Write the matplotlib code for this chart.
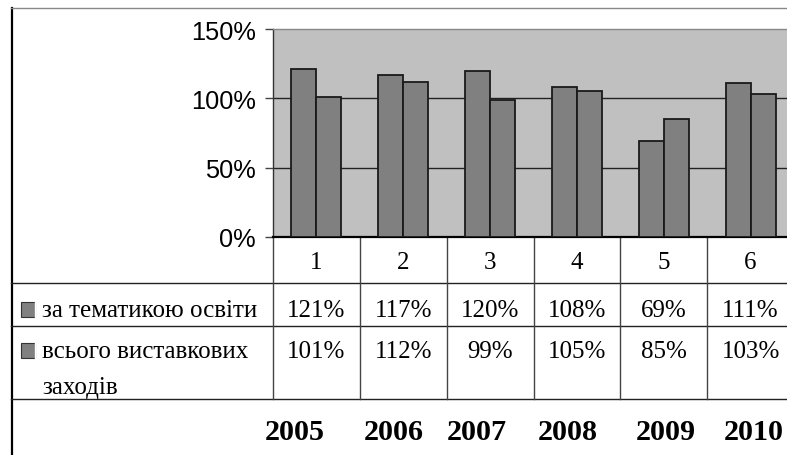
import matplotlib
matplotlib.use("Agg")
import matplotlib.pyplot as plt
from matplotlib.lines import Line2D
from matplotlib.patches import Rectangle
from matplotlib.transforms import blended_transform_factory

# ---- data ----
categories = ["1", "2", "3", "4", "5", "6"]
series_names = ["за тематикою освіти", "всього виставкових\nзаходів"]
edu_values = [121, 117, 120, 108, 69, 111]
total_values = [101, 112, 99, 105, 85, 103]
years = ["2005", "2006", "2007", "2008", "2009", "2010"]
y_ticks = [0, 50, 100, 150]
y_tick_labels = ["0%", "50%", "100%", "150%"]

W, H = 787, 456
fig = plt.figure(figsize=(W / 100, H / 100), dpi=100)
fig.patch.set_facecolor("white")

# overlay axes in pixel coordinates
ov = fig.add_axes([0, 0, 1, 1], zorder=0)
ov.set_xlim(0, W)
ov.set_ylim(H, 0)
ov.axis("off")

# main chart axes
left, right, top, bottom = 273, 794, 30, 238
ax = fig.add_axes([left / W, 1 - bottom / H, (right - left) / W, (bottom - top) / H], zorder=2)
ax.set_facecolor("#C0C0C0")
n = len(categories)
ax.set_xlim(0, n)
ax.set_ylim(0, 150)
bw = 0.288
xs = [i + 0.5 for i in range(n)]
ax.bar([x - bw / 2 for x in xs], edu_values, width=bw, color="#808080",
       edgecolor="#1a1a1a", linewidth=1.3, zorder=3)
ax.bar([x + bw / 2 for x in xs], total_values, width=bw, color="#808080",
       edgecolor="#1a1a1a", linewidth=1.3, zorder=3)
for g in [50, 100]:
    ax.axhline(g, color="#222222", linewidth=1.0, zorder=1)
ax.set_yticks(y_ticks)
ax.set_yticklabels(y_tick_labels, fontfamily="Liberation Sans", fontsize=18.3)
ax.tick_params(axis="y", direction="out", length=6, width=1, color="#444444", pad=6.5)
ax.set_xticks([])
for s in ["top", "right"]:
    ax.spines[s].set_color("#888888")
    ax.spines[s].set_linewidth(1)
ax.spines["left"].set_color("#333333")
ax.spines["left"].set_linewidth(1)
ax.spines["bottom"].set_color("black")
ax.spines["bottom"].set_linewidth(1.6)

# ---- frame ----
ov.add_line(Line2D([11.5, 11.5], [9, H], color="black", linewidth=1.6))
ov.add_line(Line2D([11, W], [9, 9], color="#888888", linewidth=1.0))

# ---- table ----
row_lines = [284, 327, 400]
for y in row_lines:
    ov.add_line(Line2D([11, W], [y, y], color="#222222", linewidth=1.0))
tr = blended_transform_factory(ax.transData, ov.transData)
for i in range(n + 1):
    ov.add_line(Line2D([i, i], [bottom, row_lines[-1]], color="#444444",
                       linewidth=1.0, transform=tr))

serif = "Liberation Serif"
fs = 18
for x, c in zip(xs, categories):
    ov.text(x, 263, c, transform=tr, ha="center", va="center", fontfamily=serif, fontsize=fs)
for x, v in zip(xs, edu_values):
    ov.text(x, 311, f"{v}%", transform=tr, ha="center", va="center", fontfamily=serif, fontsize=fs)
for x, v in zip(xs, total_values):
    ov.text(x, 352, f"{v}%", transform=tr, ha="center", va="center", fontfamily=serif, fontsize=fs)

# legend keys and row labels
for y0 in [303, 344]:
    ov.add_patch(Rectangle((21, y0), 14, 15, facecolor="#808080", edgecolor="#333333", linewidth=0.8))
    ov.add_line(Line2D([34.5, 34.5], [y0, y0 + 15], color="white", linewidth=1.0))
ov.text(42, 311, series_names[0], ha="left", va="center", fontfamily=serif, fontsize=fs)
lines2 = series_names[1].split("\n")
ov.text(42, 352, lines2[0], ha="left", va="center", fontfamily=serif, fontsize=fs)
ov.text(42, 388, lines2[1], ha="left", va="center", fontfamily=serif, fontsize=fs)

# year labels
year_x = [295, 394, 477, 568, 666, 754]
for x, yr in zip(year_x, years):
    ov.text(x, 433, yr, ha="center", va="center", fontfamily=serif, fontsize=21.7, fontweight="bold")

fig.savefig("out.png", dpi=100)
